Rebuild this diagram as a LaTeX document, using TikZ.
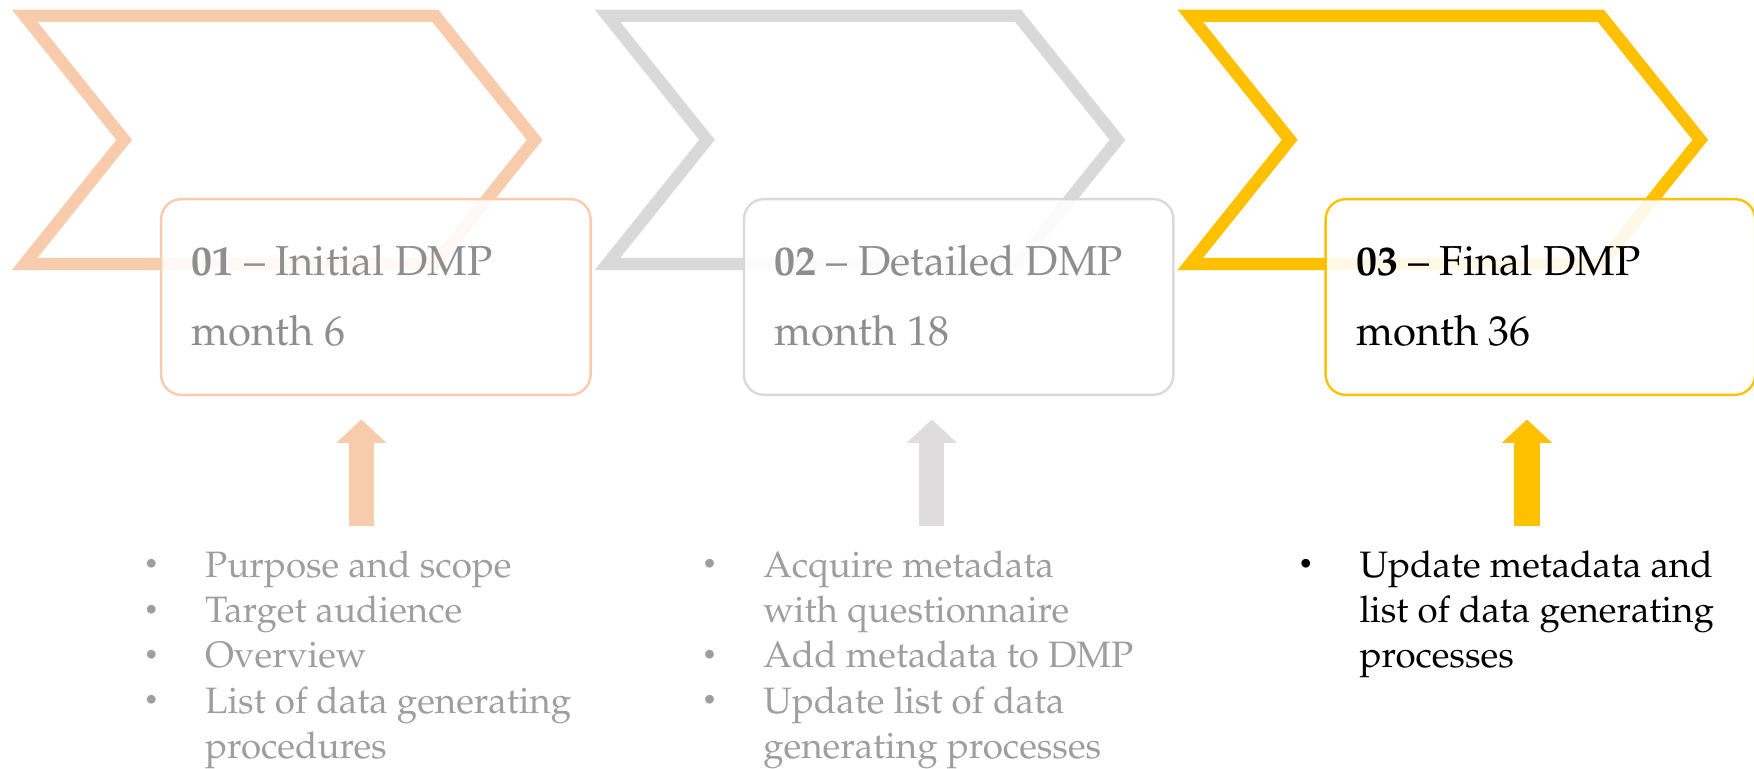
\documentclass[tikz,border=0pt]{standalone}
\usepackage[T1]{fontenc}
\usepackage{mathpazo}
\usetikzlibrary{arrows.meta,positioning}
\tikzset{>=latex}

\definecolor{peach}{HTML}{F8CBAD}
\definecolor{silver}{HTML}{D9D9D9}
\definecolor{gold}{HTML}{FFC000}
\definecolor{pale}{HTML}{DEDCDD}
\definecolor{headgray}{HTML}{8E8E8E}
\definecolor{listgray}{HTML}{9E9E9E}

\newcommand{\blt}{\raisebox{0.12em}{\fontsize{13}{13}\selectfont\textbullet}}

\begin{document}
\begin{tikzpicture}[x=0.02cm,y=-0.02cm,
   chevron/.style={line width=0.22cm,line join=miter},
   stagebox/.style={rounded corners=0.36cm,line width=1.2pt,fill=white,fill opacity=0.9,
      minimum width=7.68cm,minimum height=3.5cm,inner sep=0pt},
   head/.style={anchor=base west,inner sep=0pt,font=\fontsize{21.3}{35.85}\selectfont},
   items/.style={anchor=base west,inner sep=0pt,font=\fontsize{18.7}{23.05}\selectfont},
   uparrow/.style={line width=0.45cm,-{Triangle[width=0.88cm,length=0.42cm]}},
]
\useasboundingbox (0,0) rectangle (1568,686.6);

% chevrons
\draw[chevron,peach] (22,14) -- (389,14) -- (478,125) -- (389,236) -- (22,236) -- (111,125) -- cycle;
\draw[chevron,silver] (543,14) -- (910,14) -- (999,125) -- (910,236) -- (543,236) -- (632,125) -- cycle;
\draw[chevron,gold] (1064,14) -- (1431,14) -- (1520,125) -- (1431,236) -- (1064,236) -- (1153,125) -- cycle;

% stage boxes
\node[stagebox,draw=peach] (s1) at (336,265.5) {};
\node[stagebox,draw=silver] (s2) at (857,265.5) {};
\node[stagebox,draw=gold] (s3) at (1377,265.5) {};

\node[head,text=headgray] (h1) at (171,246) {\begin{tabular}[t]{@{}l@{}}\textbf{01} -- Initial DMP\\ month 6\end{tabular}};
\node[head,text=headgray] (h2) at (692,246) {\begin{tabular}[t]{@{}l@{}}\textbf{02} -- Detailed DMP\\ month 18\end{tabular}};
\node[head,text=black] (h3) at (1212,246) {\begin{tabular}[t]{@{}l@{}}\textbf{03} -- Final DMP\\ month 36\end{tabular}};

% arrows
\coordinate (f1) at (323,470);
\coordinate (t1) at (323,375);
\coordinate (f2) at (833,470);
\coordinate (t2) at (833,375);
\coordinate (f3) at (1365,470);
\coordinate (t3) at (1365,375);
\draw[uparrow,peach] (f1) -- (t1);
\draw[uparrow,pale] (f2) -- (t2);
\draw[uparrow,gold] (f3) -- (t3);

% lists
\node[items,text=listgray] (l1) at (128,516) {\begin{tabular}[t]{@{}p{1.1cm}@{}l@{}}
\blt & Purpose and scope\\
\blt & Target audience\\
\blt & Overview\\
\blt & List of data generating\\
     & procedures
\end{tabular}};
\node[items,text=listgray] (l2) at (627,516) {\begin{tabular}[t]{@{}p{1.1cm}@{}l@{}}
\blt & Acquire metadata\\
     & with questionnaire\\
\blt & Add metadata to DMP\\
\blt & Update list of data\\
     & generating processes
\end{tabular}};
\node[items,text=black] (l3) at (1160,516) {\begin{tabular}[t]{@{}p{1.1cm}@{}l@{}}
\blt & Update metadata and\\
     & list of data generating\\
     & processes
\end{tabular}};
\end{tikzpicture}
\end{document}
